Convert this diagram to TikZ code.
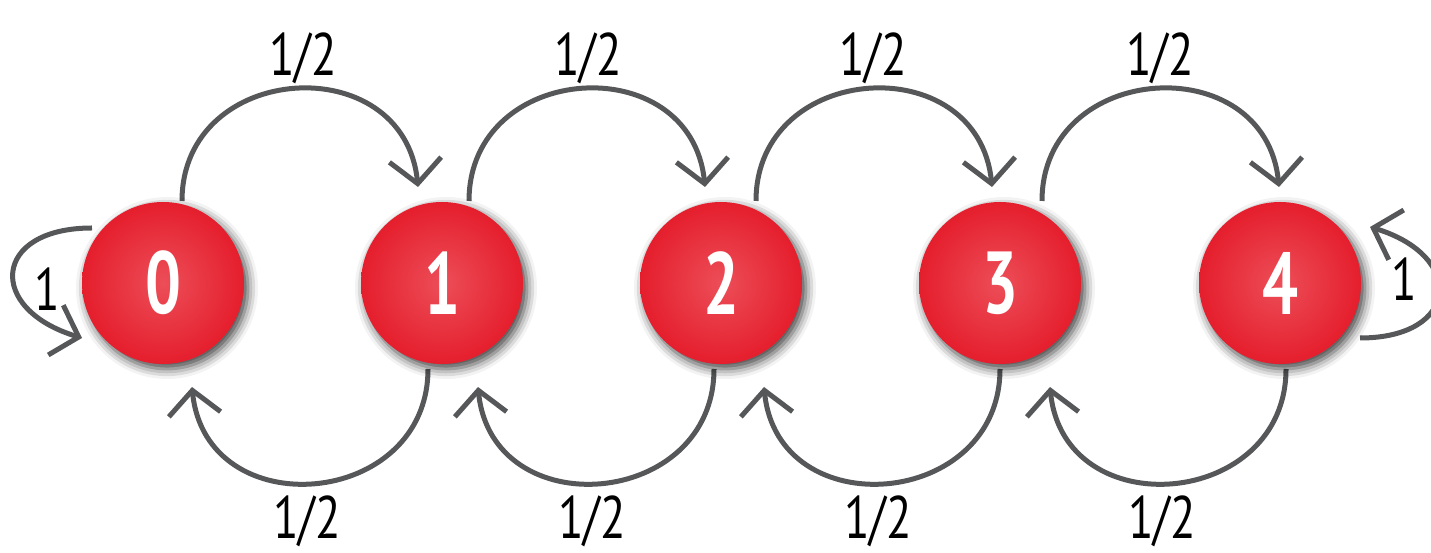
\documentclass[tikz,border=0pt]{standalone}
\usepackage{fontspec}
\usetikzlibrary{arrows.meta,calc,shadows.blur}
\newfontfamily\labfont[FakeStretch=0.78]{PT Sans}
\newfontfamily\numfont[FakeStretch=0.72]{PT Sans}
\definecolor{nodein}{RGB}{236,78,88}
\definecolor{nodeout}{RGB}{229,30,45}
\definecolor{linegray}{RGB}{85,87,89}
\pgfdeclarelayer{bg}
\pgfsetlayers{bg,main}
\tikzset{
  state/.style={circle, minimum size=162pt, inner sep=0pt,
    shading=radial, inner color=nodein, outer color=nodeout,
    blur shadow={shadow xshift=4pt, shadow yshift=-5pt, shadow blur radius=10pt, shadow opacity=75},
    text=white, font=\numfont\bfseries\fontsize{88}{88}\selectfont},
  conn/.style={draw=linegray, line width=5pt,
    -{Straight Barb[length=24pt,width=52pt]}},
  lab/.style={inner sep=0pt, font=\labfont\fontsize{60}{60}\selectfont, text=black}
}
\begin{document}
\begin{tikzpicture}[x=1pt,y=1pt]
\useasboundingbox (0,0) rectangle (1431,553);
\node[state] (n0) at (163,270) {0};
\node[state] (n1) at (442,270) {1};
\node[state] (n2) at (721,270) {2};
\node[state] (n3) at (1000,270) {3};
\node[state] (n4) at (1280,270) {4};
\begin{pgfonlayer}{bg}
% upper arcs
\draw[conn] ($(n0)+(19,82)$) .. controls +(0,140) and +(-14,140) .. ($(n1)+(-24,96)$);
\draw[conn] ($(n1)+(27,82)$) .. controls +(0,140) and +(-14,140) .. ($(n2)+(-16,96)$);
\draw[conn] ($(n2)+(35,82)$) .. controls +(0,140) and +(-14,140) .. ($(n3)+(-8,96)$);
\draw[conn] ($(n3)+(42,82)$) .. controls +(0,140) and +(-14,140) .. ($(n4)+(-1,96)$);
% lower arcs
\draw[conn] ($(n1)+(-14,-86)$) .. controls +(0,-140) and +(14,-140) .. ($(n0)+(29,-104)$);
\draw[conn] ($(n2)+(-7,-86)$) .. controls +(0,-140) and +(14,-140) .. ($(n1)+(36,-104)$);
\draw[conn] ($(n3)+(0,-86)$) .. controls +(0,-140) and +(14,-140) .. ($(n2)+(43,-104)$);
\draw[conn] ($(n4)+(6,-86)$) .. controls +(0,-140) and +(14,-140) .. ($(n3)+(50,-104)$);
% self loops
\draw[conn] ($(n0)+(-71,55)$) .. controls +(-100,0) and +(-96,29) .. ($(n0)+(-81,-55)$);
\draw[conn] ($(n4)+(80,-55)$) .. controls +(100,0) and +(96,-29) .. ($(n4)+(90,56)$);
\end{pgfonlayer}
% labels
\node[lab] (t01) at (303,495) {1/2};
\node[lab] (t12) at (588,495) {1/2};
\node[lab] (t23) at (873,495) {1/2};
\node[lab] (t34) at (1160,495) {1/2};
\node[lab] (b10) at (307,32) {1/2};
\node[lab] (b21) at (592,32) {1/2};
\node[lab] (b32) at (878,32) {1/2};
\node[lab] (b43) at (1162,32) {1/2};
\node[lab] (l0) at (47,264) {1};
\node[lab] (l4) at (1404,274) {1};
\end{tikzpicture}
\end{document}
